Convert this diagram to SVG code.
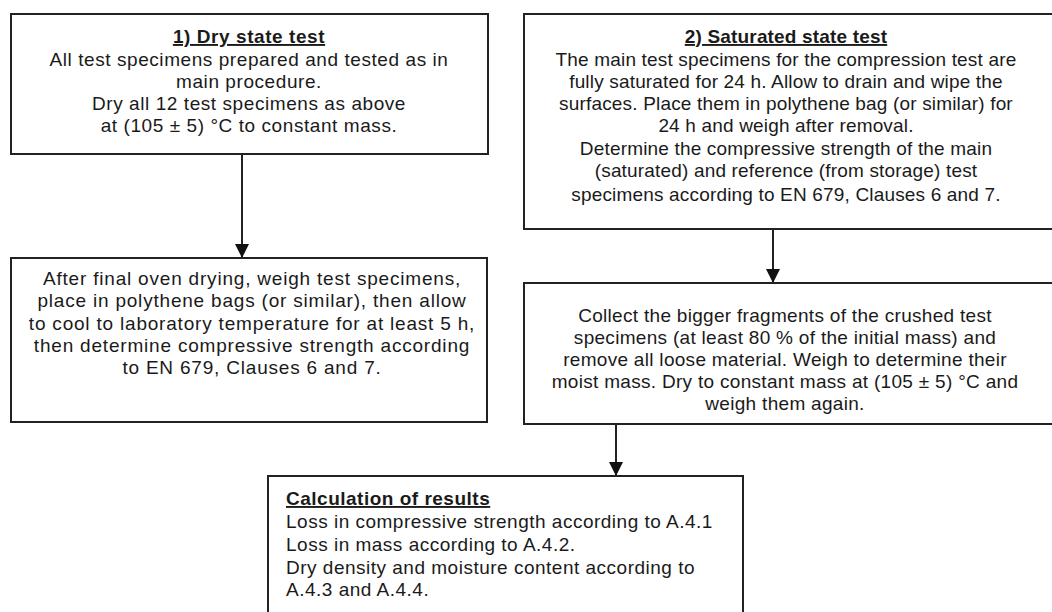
<svg xmlns="http://www.w3.org/2000/svg" width="1052" height="612" viewBox="0 0 1052 612">
<style>
.box{fill:#fff;stroke:#222;stroke-width:2}
.t{font-family:"Liberation Sans",Arial,sans-serif;font-size:19px;fill:#1a1a1a}
.c{text-anchor:middle}
.h{font-weight:bold;text-decoration:underline}
.conn{stroke:#222;stroke-width:2;fill:none}
#dry .t{letter-spacing:0.57px}
#saturated .t{letter-spacing:0.17px}
#dry-after .t{letter-spacing:0.8px}
#collect .t{letter-spacing:0.3px}
#results .t{letter-spacing:0.5px}
</style>
<defs>
<marker id="ah" markerUnits="userSpaceOnUse" markerWidth="14" markerHeight="14" viewBox="0 0 14 14" refX="14" refY="7" orient="auto">
<path d="M0,0 L14,7 L0,14 Z" fill="#111"/>
</marker>
</defs>
<rect width="1052" height="612" fill="#fff"/>
<g id="connectors">
<line class="conn" x1="242" y1="154" x2="242" y2="258" marker-end="url(#ah)"/>
<line class="conn" x1="773" y1="229" x2="773" y2="283" marker-end="url(#ah)"/>
<line class="conn" x1="616" y1="424" x2="616" y2="476" marker-end="url(#ah)"/>
</g>
<g id="dry">
<rect class="box" x="11" y="14" width="477" height="140"/>
<text class="t c h" x="249" y="43">1) Dry state test</text>
<text class="t c" x="249" y="66">All test specimens prepared and tested as in</text>
<text class="t c" x="249" y="88">main procedure.</text>
<text class="t c" x="249" y="110">Dry all 12 test specimens as above</text>
<text class="t c" x="249" y="132">at (105 ± 5) °C to constant mass.</text>
</g>
<g id="saturated">
<rect class="box" x="524" y="14" width="532" height="215"/>
<text class="t c h" x="786" y="43">2) Saturated state test</text>
<text class="t c" x="786" y="66">The main test specimens for the compression test are</text>
<text class="t c" x="786" y="88">fully saturated for 24 h. Allow to drain and wipe the</text>
<text class="t c" x="786" y="110">surfaces. Place them in polythene bag (or similar) for</text>
<text class="t c" x="786" y="132">24 h and weigh after removal.</text>
<text class="t c" x="786" y="155">Determine the compressive strength of the main</text>
<text class="t c" x="786" y="177">(saturated) and reference (from storage) test</text>
<text class="t c" x="786" y="201">specimens according to EN 679, Clauses 6 and 7.</text>
</g>
<g id="dry-after">
<rect class="box" x="11" y="258" width="476" height="164"/>
<text class="t c" x="252" y="285">After final oven drying, weigh test specimens,</text>
<text class="t c" x="252" y="307">place in polythene bags (or similar), then allow</text>
<text class="t c" x="252" y="330">to cool to laboratory temperature for at least 5 h,</text>
<text class="t c" x="252" y="352">then determine compressive strength according</text>
<text class="t c" x="252" y="374">to EN 679, Clauses 6 and 7.</text>
</g>
<g id="collect">
<rect class="box" x="524" y="283" width="532" height="141"/>
<text class="t c" x="785" y="322">Collect the bigger fragments of the crushed test</text>
<text class="t c" x="785" y="344">specimens (at least 80 % of the initial mass) and</text>
<text class="t c" x="785" y="366">remove all loose material. Weigh to determine their</text>
<text class="t c" x="785" y="388">moist mass. Dry to constant mass at (105 ± 5) °C and</text>
<text class="t c" x="785" y="410">weigh them again.</text>
</g>
<g id="results">
<rect class="box" x="268" y="476" width="475" height="150"/>
<text class="t h" x="286" y="505">Calculation of results</text>
<text class="t" x="286" y="528">Loss in compressive strength according to A.4.1</text>
<text class="t" x="286" y="551">Loss in mass according to A.4.2.</text>
<text class="t" x="286" y="574">Dry density and moisture content according to</text>
<text class="t" x="286" y="596">A.4.3 and A.4.4.</text>
</g>
</svg>
